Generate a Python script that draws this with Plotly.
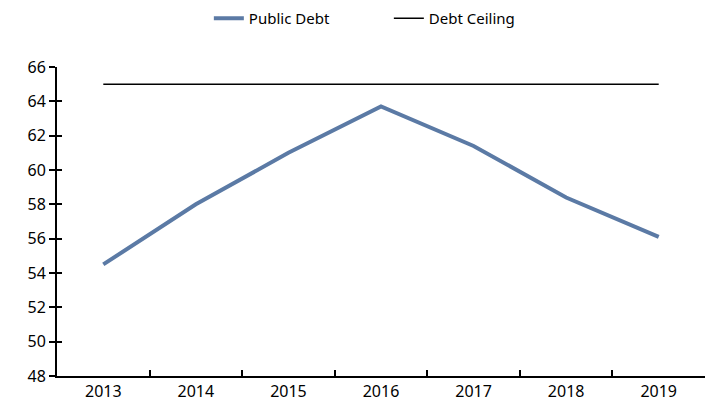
import plotly.graph_objects as go

years = ["2013", "2014", "2015", "2016", "2017", "2018", "2019"]
public_debt = [54.5, 58.0, 61.0, 63.7, 61.4, 58.4, 56.1]
debt_ceiling = [65, 65, 65, 65, 65, 65, 65]
y_ticks = [48, 50, 52, 54, 56, 58, 60, 62, 64, 66]

font = dict(family="Noto Sans", size=16, color="#000000")

fig = go.Figure()
fig.add_trace(go.Scatter(
    x=years, y=public_debt, name="Public Debt", mode="lines",
    line=dict(color="#5b7aa5", width=4),
))
fig.add_trace(go.Scatter(
    x=years, y=debt_ceiling, name="Debt Ceiling", mode="lines",
    line=dict(color="#000000", width=1.5),
))
# invisible trace on a twin axis so the y ticks cross the axis line
fig.add_trace(go.Scatter(
    x=years, y=public_debt, yaxis="y2", mode="lines", showlegend=False,
    line=dict(width=0), hoverinfo="skip",
))

fig.update_layout(
    width=707, height=409,
    margin=dict(l=57, r=2, t=67, b=33, autoexpand=False),
    paper_bgcolor="white", plot_bgcolor="white",
    font=font,
    showlegend=True,
    legend=dict(orientation="h", xref="container", x=0.55, xanchor="center",
                yref="container", y=0.995, yanchor="top",
                entrywidth=135, entrywidthmode="pixels",
                font=dict(family="Noto Sans", size=15), traceorder="normal"),
    xaxis=dict(
        type="category", range=[-0.5, 6.5], tickson="boundaries",
        ticks="inside", ticklen=6, tickwidth=1.5, tickcolor="#000",
        showline=True, linecolor="#000", linewidth=2,
        showgrid=False, zeroline=False, tickfont=font,
    ),
    yaxis=dict(
        range=[48, 66], tickvals=y_ticks, ticks="outside", ticklen=6,
        tickwidth=1.5, tickcolor="#000", showline=True, linecolor="#000",
        linewidth=2, showgrid=False, zeroline=False, tickfont=font,
    ),
    yaxis2=dict(
        range=[48, 66], tickvals=y_ticks, ticks="inside", ticklen=5,
        tickwidth=1.5, tickcolor="#000", overlaying="y", side="left", anchor="x",
        showticklabels=False, showline=False, showgrid=False, zeroline=False,
    ),
)

fig.write_html("out.html")
